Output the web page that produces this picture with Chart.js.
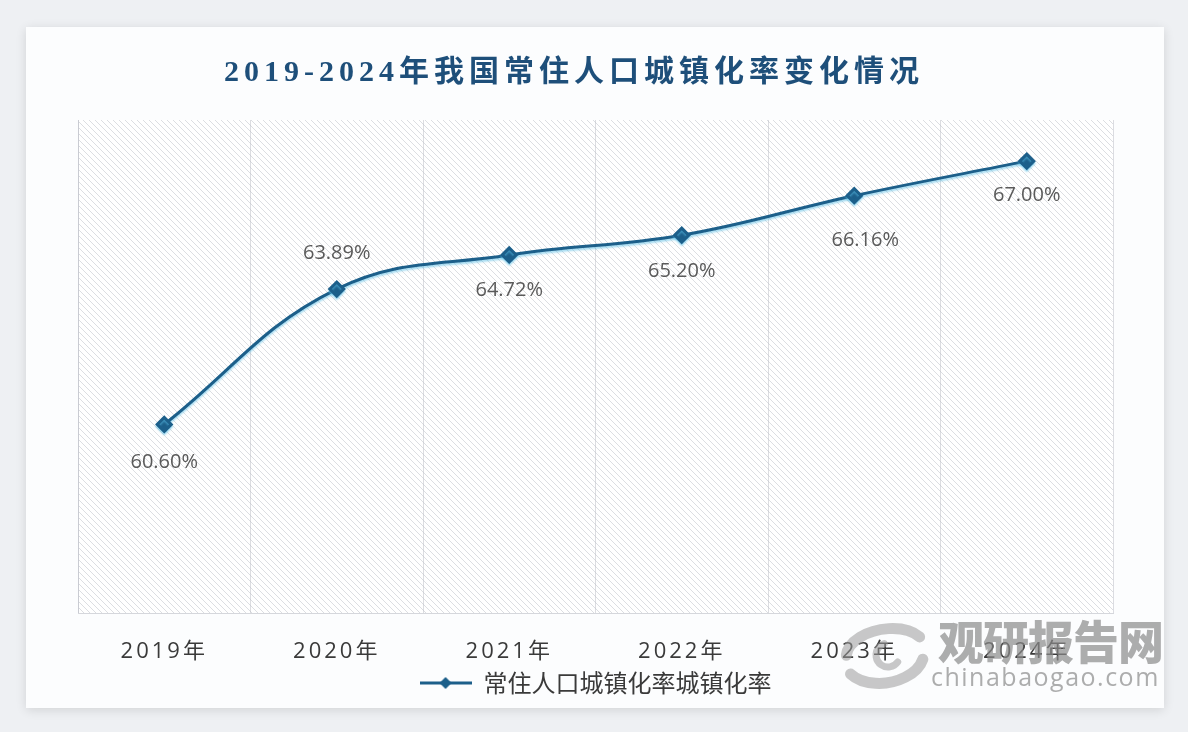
<!DOCTYPE html>
<html>
<head>
<meta charset="utf-8">
<script src="https://cdn.jsdelivr.net/npm/chart.js@4/dist/chart.umd.min.js"></script>
<style>
  html, body { margin: 0; padding: 0; }
  body { width: 1188px; height: 732px; background: #eef0f3; position: relative; overflow: hidden; }
  #card { position: absolute; left: 26px; top: 27px; width: 1138px; height: 681px; background: #fcfdfe;
          box-shadow: 0 2px 10px rgba(0,0,0,0.12); }
</style>
</head>
<body>
<div id="card"><canvas id="lineChart"></canvas></div>
<script>
// 数据
var years = ['2019年', '2020年', '2021年', '2022年', '2023年', '2024年'];
var rates = [60.60, 63.89, 64.72, 65.20, 66.16, 67.00];
var seriesName = '常住人口城镇化率城镇化率';
var chartTitle = '2019-2024年我国常住人口城镇化率变化情况';
var yMin = 56, yMax = 68;

var lineColor = '#1c5f8a';

// 斜线底纹
function hatchPattern(ctx) {
    var c = document.createElement('canvas');
    c.width = 6; c.height = 6;
    var g = c.getContext('2d');
    g.fillStyle = '#ffffff';
    g.fillRect(0, 0, 6, 6);
    g.strokeStyle = '#dcdee2';
    g.lineWidth = 1;
    g.beginPath();
    g.moveTo(-1, -1); g.lineTo(7, 7);
    g.moveTo(-1, 5); g.lineTo(1, 7);
    g.moveTo(5, -1); g.lineTo(7, 1);
    g.stroke();
    return ctx.createPattern(c, 'repeat');
}

// 图例图标：线 + 菱形
function legendIcon() {
    var c = document.createElement('canvas');
    c.width = 52; c.height = 16;
    var g = c.getContext('2d');
    g.strokeStyle = lineColor;
    g.lineWidth = 3;
    g.beginPath(); g.moveTo(0, 8); g.lineTo(52, 8); g.stroke();
    g.fillStyle = lineColor;
    g.beginPath(); g.moveTo(26, 2); g.lineTo(32, 8); g.lineTo(26, 14); g.lineTo(20, 8); g.closePath(); g.fill();
    return c;
}
var icon = legendIcon();

var backgroundPlugin = {
    id: 'plotBackground',
    beforeDraw: function (chart) {
        var ctx = chart.ctx, a = chart.chartArea;
        ctx.save();
        ctx.fillStyle = hatchPattern(ctx);
        ctx.fillRect(a.left, a.top, a.right - a.left, a.bottom - a.top);
        ctx.strokeStyle = '#d9dbe0';
        ctx.lineWidth = 1;
        ctx.beginPath();
        ctx.moveTo(a.left + 0.5, a.top); ctx.lineTo(a.left + 0.5, a.bottom);
        ctx.stroke();
        ctx.restore();
    },
    afterUpdate: function (chart) {
        var sx = chart.scales.x;
        if (sx && !sx._spaced) {
            var orig = sx.drawLabels;
            sx.drawLabels = function (area) {
                this.ctx.save();
                this.ctx.letterSpacing = '3px';
                orig.call(this, area);
                this.ctx.restore();
            };
            sx._spaced = true;
        }
    },
    beforeDatasetsDraw: function (chart) {
        var ctx = chart.ctx;
        ctx.save();
        ctx.shadowColor = 'rgba(90,190,230,0.55)';
        ctx.shadowOffsetY = 2;
        ctx.shadowBlur = 2;
    },
    afterDatasetsDraw: function (chart) {
        chart.ctx.restore();
    }
};

var labelPlugin = {
    id: 'pointLabels',
    afterDatasetsDraw: function (chart, args, opts) {
        var ctx = chart.ctx;
        var meta = chart.getDatasetMeta(0);
        ctx.save();
        ctx.font = '20px "Open Sans", "Noto Sans", sans-serif';
        ctx.fillStyle = '#5a5a5a';
        ctx.textAlign = 'center';
        ctx.textBaseline = 'middle';
        meta.data.forEach(function (pt, i) {
            var s = opts.shift[i] || [0, 36];
            ctx.fillText(rates[i].toFixed(2) + '%', pt.x + s[0], pt.y + s[1]);
        });
        ctx.restore();
    }
};

var titlePlugin = {
    id: 'customTitle',
    afterDraw: function (chart) {
        var ctx = chart.ctx;
        ctx.save();
        ctx.font = 'bold 30px "Liberation Serif", "Noto Sans CJK SC", serif';
        ctx.letterSpacing = '5px';
        ctx.fillStyle = '#1e4f7a';
        ctx.textAlign = 'center';
        ctx.textBaseline = 'middle';
        ctx.fillText(chartTitle, 548, 46);
        ctx.restore();
    }
};

var watermarkPlugin = {
    id: 'watermark',
    afterDraw: function (chart) {
        var ctx = chart.ctx;
        ctx.save();
        // 标志
        ctx.globalAlpha = 0.55;
        ctx.strokeStyle = '#9a9a9a';
        ctx.lineCap = 'round';
        ctx.lineWidth = 11;
        ctx.beginPath();
        ctx.ellipse(860, 626, 40, 24, -0.15, Math.PI * 1.05, Math.PI * 1.85);
        ctx.stroke();
        ctx.beginPath();
        ctx.ellipse(858, 630, 40, 26, -0.15, Math.PI * 0.1, Math.PI * 0.85);
        ctx.stroke();
        ctx.lineWidth = 7;
        ctx.beginPath();
        ctx.arc(862, 628, 12, Math.PI * 0.2, Math.PI * 1.4);
        ctx.stroke();
        ctx.globalAlpha = 0.7;
        ctx.fillStyle = '#8a8a8a';
        ctx.textAlign = 'left';
        ctx.textBaseline = 'middle';
        ctx.font = '900 46px "Noto Sans CJK SC", sans-serif';
        ctx.letterSpacing = '-1px';
        ctx.fillText('观研报告网', 912, 615);
        ctx.font = '25px "Open Sans", "DejaVu Sans", sans-serif';
        ctx.letterSpacing = '1.5px';
        ctx.fillText('chinabaogao.com', 905, 652);
        ctx.restore();
    }
};

var ctx = document.getElementById('lineChart').getContext('2d');
var lineChart = new Chart(ctx, {
    type: 'line',
    data: {
        labels: years,
        datasets: [{
            label: seriesName,
            data: rates,
            borderColor: lineColor,
            backgroundColor: lineColor,
            borderWidth: 3,
            tension: 0.4,
            pointStyle: 'rectRot',
            pointRadius: 7,
            pointBackgroundColor: lineColor,
            pointBorderColor: lineColor,
            fill: false
        }]
    },
    options: {
        responsive: true,
        maintainAspectRatio: false,
        animation: false,
        layout: {
            padding: { left: 52, right: 51, top: 93, bottom: 3 }
        },
        scales: {
            x: {
                offset: true,
                grid: {
                    offset: true,
                    drawTicks: true,
                    tickLength: 19,
                    tickColor: 'rgba(0,0,0,0)',
                    color: 'rgba(185,188,195,0.5)'
                },
                border: { display: true, color: '#d5d7dc' },
                ticks: {
                    padding: 6,
                    color: '#3a3a3a',
                    font: { size: 22, family: '"Open Sans", "Noto Sans CJK SC", sans-serif' }
                }
            },
            y: {
                display: false,
                min: yMin,
                max: yMax
            }
        },
        plugins: {
            legend: {
                position: 'bottom',
                labels: {
                    usePointStyle: true,
                    pointStyleWidth: 52,
                    padding: 0,
                    color: '#3a3a3a',
                    font: { size: 24, family: '"Noto Sans CJK SC", sans-serif' },
                    generateLabels: function (chart) {
                        var items = Chart.defaults.plugins.legend.labels.generateLabels(chart);
                        items.forEach(function (it) { it.pointStyle = icon; });
                        return items;
                    }
                }
            },
            tooltip: { enabled: false },
            pointLabels: {
                shift: [[0, 38], [0, -36], [0, 35], [0, 36], [11, 45], [0, 34]]
            }
        }
    },
    plugins: [backgroundPlugin, labelPlugin, titlePlugin, watermarkPlugin]
});
</script>
</body>
</html>
